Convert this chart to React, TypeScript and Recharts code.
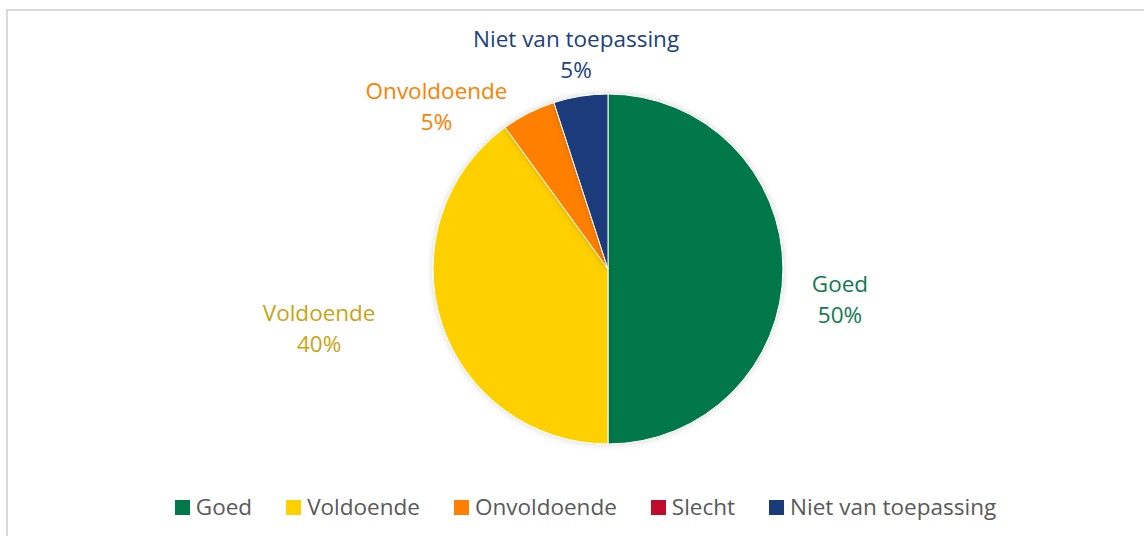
import React from "react";
import { PieChart, Pie, Cell, Legend } from "recharts";

const categories = ["Goed", "Voldoende", "Onvoldoende", "Slecht", "Niet van toepassing"];
const values = [50, 40, 5, 0, 5];
const sliceColors = ["#00784A", "#FFD000", "#FF8000", "#C00D2E", "#1B3A7A"];
const labelColors = ["#0E7A4E", "#C9A412", "#FF8000", "#C00D2E", "#213F7E"];

const data = categories.map((name, i) => ({ name, value: values[i] }));

// label placement tweaks (radial offset beyond the rim, angle shift in degrees)
const labelTweak: Record<string, { dr: number; da: number }> = {
  Goed: { dr: 59, da: -7.5 },
  Voldoende: { dr: 120, da: -6.3 },
  Onvoldoende: { dr: 61, da: 19.6 },
  "Niet van toepassing": { dr: 41, da: -0.5 },
};

const RAD = Math.PI / 180;
const FONT = "'Open Sans', 'Noto Sans', sans-serif";

const renderLabel = (props: any) => {
  const { cx, cy, midAngle, outerRadius, index, name, value } = props;
  if (!value) return null;
  const t = labelTweak[name] || { dr: 40, da: 0 };
  const r = outerRadius + t.dr;
  const a = (midAngle + t.da) * RAD;
  const x = cx + r * Math.cos(a);
  const y = cy - r * Math.sin(a);
  const total = values.reduce((s, v) => s + v, 0);
  const pct = Math.round((value / total) * 100) + "%";
  return (
    <text
      x={x}
      y={y}
      textAnchor="middle"
      fill={labelColors[index]}
      fontFamily={FONT}
      fontSize={22.5}
    >
      <tspan x={x} dy={-8}>{name}</tspan>
      <tspan x={x} dy={31}>{pct}</tspan>
    </text>
  );
};

const renderLegend = () => (
  <div
    style={{
      display: "flex",
      justifyContent: "center",
      gap: 34,
      fontFamily: FONT,
      fontSize: 22.5,
      color: "#595959",
      paddingLeft: 27,
      lineHeight: "30px",
    }}
  >
    {categories.map((c, i) => (
      <div key={c} style={{ display: "flex", alignItems: "center" }}>
        <span
          style={{
            display: "inline-block",
            width: 15,
            height: 15,
            background: sliceColors[i],
            marginRight: 6,
          }}
        />
        <span>{c}</span>
      </div>
    ))}
  </div>
);

export default function App() {
  return (
    <div style={{ position: "absolute", left: 0, top: 0, width: 1144, height: 536, overflow: "hidden", background: "#fff" }}>
      <div
        style={{
          position: "absolute",
          left: 6,
          top: 9,
          width: 1160,
          height: 560,
          border: "2px solid #D9D9D9",
          boxSizing: "border-box",
        }}
      />
      <div style={{ position: "absolute", left: 0, top: 0 }}>
        <PieChart width={1144} height={536} margin={{ top: 0, right: 0, bottom: 0, left: 0 }}>
          <defs>
            <filter id="pieShadow" x="-20%" y="-20%" width="140%" height="140%">
              <feDropShadow dx="0" dy="0" stdDeviation="3" floodColor="#000" floodOpacity="0.18" />
            </filter>
          </defs>
          <Pie
            data={data}
            dataKey="value"
            nameKey="name"
            cx={608}
            cy={269}
            outerRadius={175}
            startAngle={90}
            endAngle={-270}
            stroke="#ffffff"
            strokeWidth={1}
            label={renderLabel}
            labelLine={false}
            isAnimationActive={false}
          >
            {data.map((d, i) => (
              <Cell key={d.name} fill={sliceColors[i]} filter="url(#pieShadow)" />
            ))}
          </Pie>
          <Legend
            content={renderLegend}
            verticalAlign="bottom"
            wrapperStyle={{ top: 492, left: 0, width: 1144 }}
          />
        </PieChart>
      </div>
    </div>
  );
}
